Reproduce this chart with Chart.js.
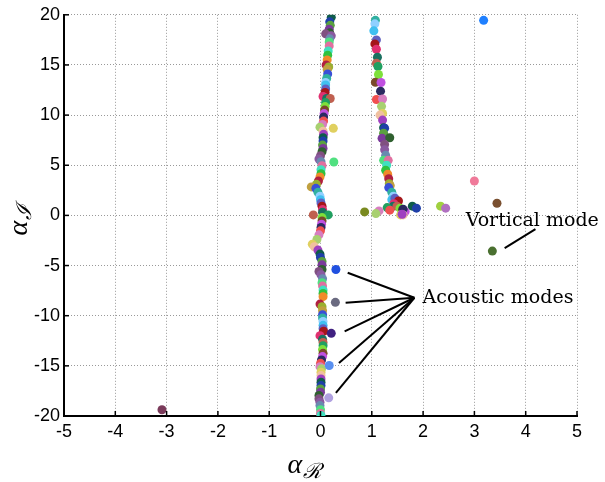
<!DOCTYPE html>
<html>
<head>
<meta charset="utf-8">
<script src="https://cdn.jsdelivr.net/npm/chart.js@4.4.1/dist/chart.umd.min.js"></script>
<style>
  html, body { margin: 0; padding: 0; background: #ffffff; }
  #wrap { width: 605px; height: 482px; position: relative; }
</style>
</head>
<body>
<div id="wrap"><canvas id="modesChart"></canvas></div>
<script>
// Eigenvalues, left branch (alpha_R ~ 0)
const leftRe = [0.21, 0.18, 0.19, 0.17, 0.18, 0.10, 0.21, 0.18, 0.17, 0.17, 0.15, 0.14, 0.13, 0.11, 0.16, 0.13,
  0.14, 0.12, 0.10, 0.10, 0.10, 0.09, 0.05, 0.12, 0.19, 0.10, 0.09, 0.08, 0.07, 0.06, 0.06, 0.04, -0.01, 0.25,
  0.05, 0.06, 0.05, 0.05, 0.04, 0.05, 0.03, 0.00, -0.03, 0.01, 0.26, 0.03, 0.01, 0.01, -0.01, -0.04, -0.08,
  -0.18, -0.09, -0.05, -0.01, 0.00, 0.01, 0.03, 0.04, 0.04, -0.14, 0.15, 0.03, 0.03, 0.02, 0.01, 0.00, -0.03,
  -0.07, -0.16, -0.12, -0.05, -0.01, 0.00, 0.03, 0.03, 0.03, -0.03, 0.01, 0.04, 0.03, 0.04, 0.05, 0.05, 0.05,
  -0.01, 0.03, 0.04, 0.04, 0.04, 0.05, 0.05, 0.05, 0.06, -0.01, 0.04, 0.05, 0.05, 0.04, 0.05, 0.04, 0.02, 0.00,
  -0.01, 0.02, 0.01, 0.01, 0.01, 0.01, 0.01, 0.00, 0.00, -0.03, -0.03, -0.01, -0.01, 0.00, 0.00, 0.01];
const leftIm = [19.75, 19.3, 18.95, 18.56, 18.2, 18.1, 17.9, 17.6, 17.3, 16.9, 16.4, 15.97, 15.5, 15.0, 14.8, 14.55,
  14.1, 13.65, 13.25, 13.0, 12.6, 12.25, 11.85, 11.65, 11.65, 11.25, 10.85, 10.5, 10.15, 9.8, 9.4, 9.07, 8.8, 8.68,
  8.4, 8.08, 7.74, 7.41, 7.01, 6.68, 6.35, 5.95, 5.62, 5.35, 5.32, 4.95, 4.56, 4.16, 3.83, 3.43, 3.1,
  2.84, 2.7, 2.3, 1.91, 1.57, 1.24, 0.92, 0.58, 0.32, 0.05, 0.05, -0.22, -0.55, -0.88, -1.21, -1.54, -1.94,
  -2.4, -2.87, -3.13, -3.46, -3.86, -4.2, -4.6, -4.93, -5.39, -5.59, -5.92, -6.32, -6.72, -7.05, -7.45, -7.78, -8.1,
  -8.84, -9.1, -9.5, -9.9, -10.23, -10.57, -10.96, -11.3, -11.55, -11.99, -12.36, -12.66, -12.99, -13.38, -13.75, -14.08, -14.41, -14.75,
  -15.08, -15.3, -15.64, -15.97, -16.3, -16.64, -16.97, -17.3, -17.63, -17.96, -18.29, -18.63, -18.96, -19.38, -19.75, -19.95];

// Eigenvalues, right branch (alpha_R ~ 1)
const rightRe = [1.07, 1.06, 1.04, 1.09, 1.06, 1.09, 1.11, 1.09, 1.12, 1.13, 1.07, 1.18, 1.17, 1.09, 1.21, 1.19,
  1.21, 1.16, 1.21, 1.23, 1.25, 1.23, 1.20, 1.35, 1.25, 1.25, 1.27, 1.23, 1.32, 1.29, 1.27, 1.31, 1.33, 1.34,
  1.36, 1.33, 1.39, 1.42, 1.39, 1.45, 1.52, 1.43, 1.42, 1.49, 1.30, 1.55, 1.60, 1.65, 1.61, 1.35, 1.14, 1.08,
  1.56, 1.61, 1.59, 1.79, 1.87];
const rightIm = [19.45, 19.1, 18.4, 17.5, 17.1, 16.57, 15.77, 15.17, 14.85, 14.05, 13.28, 13.25, 12.39, 11.56, 11.6, 10.87,
  10.17, 10.0, 9.5, 8.74, 8.7, 8.2, 7.68, 7.74, 7.08, 6.55, 5.99, 5.49, 5.49, 5.0, 4.5, 4.1, 3.66, 3.16,
  2.97, 2.77, 2.3, 1.91, 1.57, 1.71, 1.44, 1.17, 0.92, 0.92, 0.78, 0.72, 0.58, 0.38, 0.62, 0.52, 0.45, 0.18,
  0.05, 0.05, 0.12, 0.92, 0.72];

// Isolated eigenvalues
const looseRe = [0.86, 2.34, 2.44, 3.0, 3.44, 3.35, 3.18, -3.09];
const looseIm = [0.35, 0.92, 0.72, 3.43, 1.21, -3.56, 19.45, -19.38];

// Acoustic modes
const acousticRe = [0.30, 0.29, 0.21, 0.17, 0.16];
const acousticIm = [-5.39, -8.67, -11.76, -14.96, -18.19];

// Axis ticks
const xTicks = [-5, -4, -3, -2, -1, 0, 1, 2, 3, 4, 5];
const yTicks = [-20, -15, -10, -5, 0, 5, 10, 15, 20];

// Point colours
const palette = ["#0f5c4a", "#d67ec0", "#7ee03a", "#a4161a", "#3a4fd8", "#2fc23f", "#8a5aa0", "#1f3fa8",
  "#a8d070", "#7a4a2a", "#e03070", "#30b0a0", "#f08a2a", "#6a8ab0", "#5aa040", "#e0d060", "#c050e0",
  "#1a7060", "#8fd0ff", "#b02040", "#50e080", "#7a3a9a", "#f0c0a0", "#2a2a60", "#c06050", "#40c0f0",
  "#9ab030", "#e070a0", "#306030", "#a040c0", "#f05050", "#20a060", "#6060c0", "#c0a040", "#40e0c0", "#805080"];
const looseColors = ["#7a8a20", "#a0d040", "#b070c0", "#f07a9a", "#7a5030", "#4a7030", "#1f80ff", "#7a3a5a"];
const acousticColors = ["#2050e0", "#6a6a80", "#402080", "#5a90f0", "#b0a0e0"];

// Annotation anchors in data units
const notes = {
  acoustic: { text: "Acoustic modes", x: 1.99, y: -8.71, hub: [1.83, -8.21],
    ends: [[0.53, -5.72], [0.49, -8.71], [0.47, -11.56], [0.36, -14.71], [0.30, -17.69]] },
  vortical: { text: "Vortical mode", x: 2.83, y: -1.04, from: [3.59, -3.26], to: [4.19, -1.37] },
};

const toPoints = (xs, ys) => xs.map((v, i) => ({ x: v, y: ys[i] }));
const cycle = (n, offset) => Array.from({ length: n }, (_, i) => palette[(i * 7 + offset) % palette.length]);

const tickFont = { family: "'Liberation Sans', Arial, sans-serif", size: 18 };

const axisDecor = {
  id: "axisDecor",
  afterDraw(chart) {
    const { ctx, chartArea: a, scales: { x, y } } = chart;
    ctx.save();
    // inward tick marks
    ctx.strokeStyle = "#000";
    ctx.lineWidth = 1.5;
    xTicks.forEach((v) => {
      const px = x.getPixelForValue(v);
      ctx.beginPath(); ctx.moveTo(px, a.bottom); ctx.lineTo(px, a.bottom - 5); ctx.stroke();
    });
    yTicks.forEach((v) => {
      const py = y.getPixelForValue(v);
      ctx.beginPath(); ctx.moveTo(a.left, py); ctx.lineTo(a.left + 5, py); ctx.stroke();
    });

    // annotations
    ctx.lineWidth = 2;
    const ac = notes.acoustic;
    const hx = x.getPixelForValue(ac.hub[0]), hy = y.getPixelForValue(ac.hub[1]);
    ac.ends.forEach((e) => {
      ctx.beginPath();
      ctx.moveTo(x.getPixelForValue(e[0]), y.getPixelForValue(e[1]));
      ctx.lineTo(hx, hy);
      ctx.stroke();
    });
    const vo = notes.vortical;
    ctx.beginPath();
    ctx.moveTo(x.getPixelForValue(vo.from[0]), y.getPixelForValue(vo.from[1]));
    ctx.lineTo(x.getPixelForValue(vo.to[0]), y.getPixelForValue(vo.to[1]));
    ctx.stroke();

    ctx.fillStyle = "#000";
    ctx.font = "19px 'DejaVu Serif', serif";
    ctx.textBaseline = "alphabetic";
    ctx.textAlign = "left";
    ctx.fillText(ac.text, x.getPixelForValue(ac.x), y.getPixelForValue(ac.y));
    ctx.fillText(vo.text, x.getPixelForValue(vo.x), y.getPixelForValue(vo.y));

    // axis titles: alpha_R and alpha_I
    const cx = (a.left + a.right) / 2;
    ctx.font = "italic 28px 'Liberation Serif', serif";
    ctx.fillText("\u03b1", cx - 33, a.bottom + 57);
    ctx.font = "italic 21px 'DejaVu Serif', serif";
    ctx.fillText("\u211b", cx - 18, a.bottom + 62);

    ctx.translate(27, (a.top + a.bottom) / 2 + 20);
    ctx.rotate(-Math.PI / 2);
    ctx.font = "italic 28px 'Liberation Serif', serif";
    ctx.fillText("\u03b1", 0, 0);
    ctx.font = "italic 21px 'DejaVu Serif', serif";
    ctx.fillText("\u2110", 15, 4);
    ctx.restore();
  },
};

new Chart(document.getElementById("modesChart").getContext("2d"), {
  type: "scatter",
  data: {
    datasets: [
      { data: toPoints(acousticRe, acousticIm), backgroundColor: acousticColors },
      { data: toPoints(looseRe, looseIm), backgroundColor: looseColors },
      { data: toPoints(leftRe, leftIm), backgroundColor: cycle(leftRe.length, 0) },
      { data: toPoints(rightRe, rightIm), backgroundColor: cycle(rightRe.length, 11) },
    ],
  },
  options: {
    responsive: true,
    maintainAspectRatio: false,
    animation: false,
    layout: { padding: { top: 13, right: 28, left: 0, bottom: 0 } },
    elements: { point: { radius: 4.5, borderWidth: 0, hoverRadius: 4.5 } },
    plugins: { legend: { display: false }, tooltip: { enabled: false } },
    scales: {
      x: {
        type: "linear",
        min: -5,
        max: 5,
        afterFit: (s) => { s.height = 66; },
        afterBuildTicks: (s) => { s.ticks = xTicks.map((v) => ({ value: v })); },
        ticks: { color: "#000", font: tickFont, padding: 5, maxRotation: 0 },
        grid: { color: "#999999", lineWidth: 1, drawTicks: false },
        border: { color: "#000", width: 2, dash: [1, 2] },
      },
      y: {
        type: "linear",
        min: -20,
        max: 20,
        afterFit: (s) => { s.width = 64; },
        afterBuildTicks: (s) => { s.ticks = yTicks.map((v) => ({ value: v })); },
        ticks: { color: "#000", font: tickFont, padding: 4 },
        grid: { color: "#999999", lineWidth: 1, drawTicks: false },
        border: { color: "#000", width: 2, dash: [1, 2] },
      },
    },
  },
  plugins: [axisDecor],
});
</script>
</body>
</html>
